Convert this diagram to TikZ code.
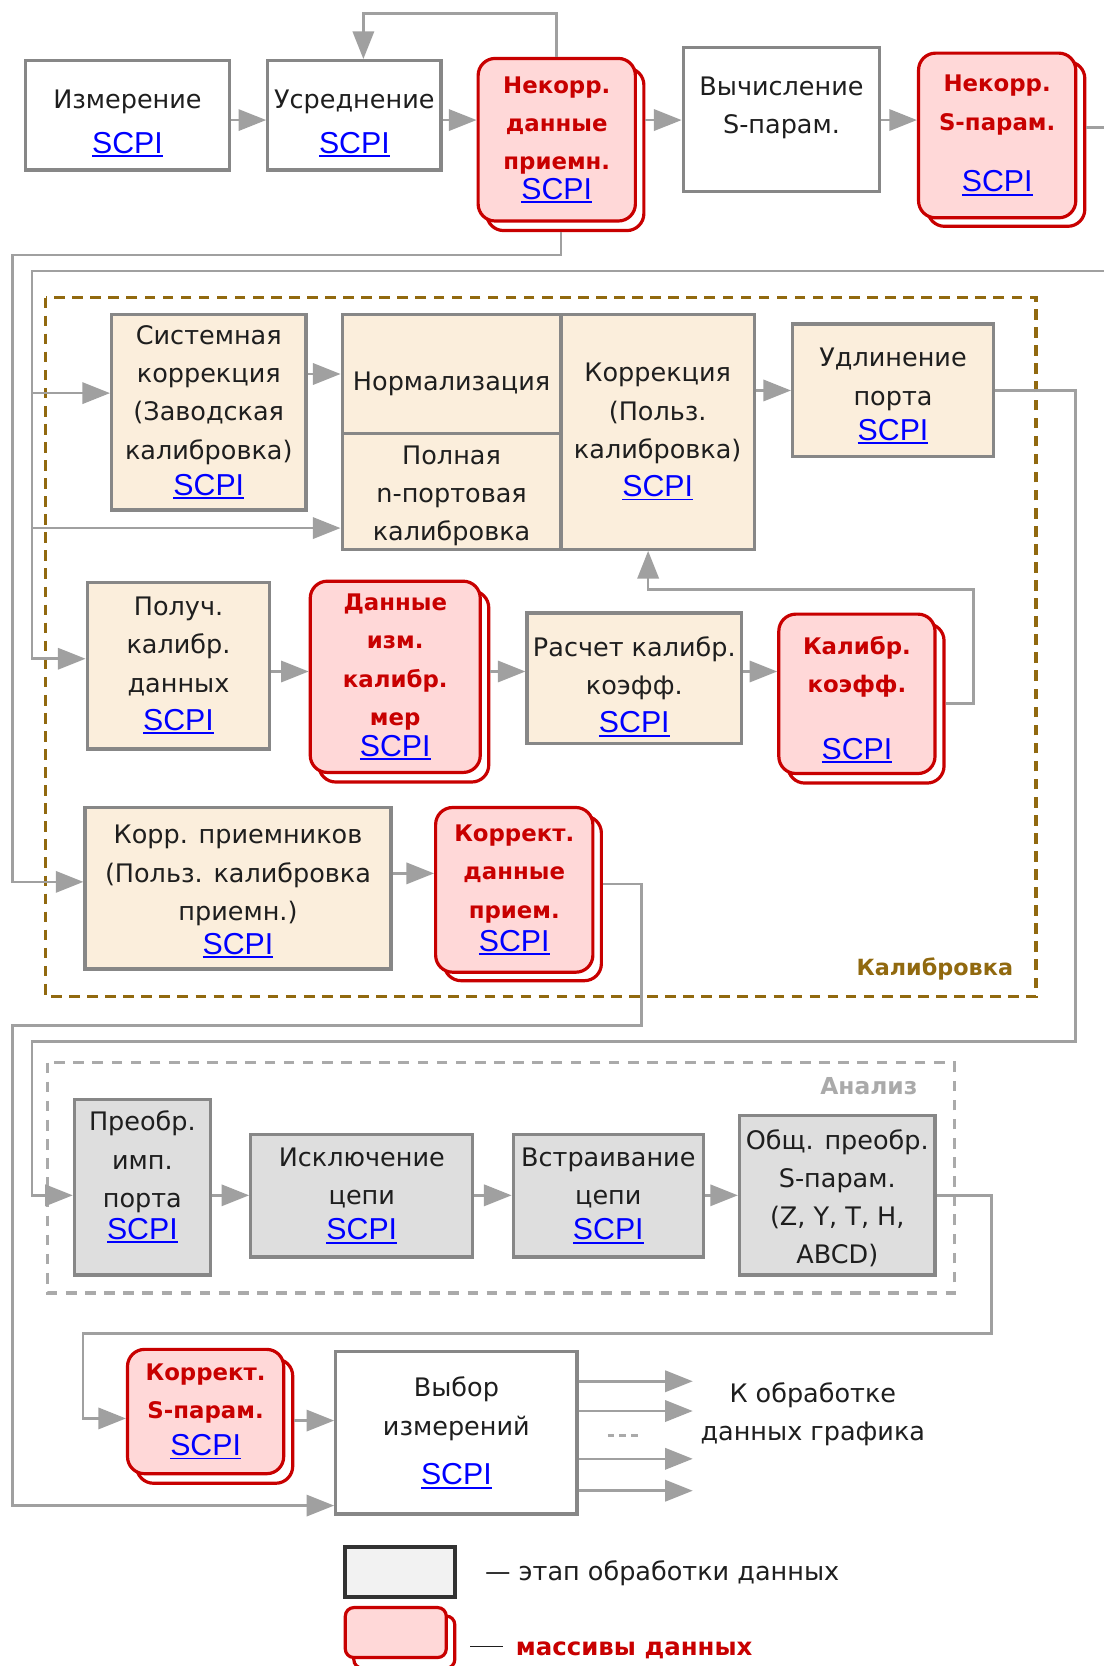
\documentclass[tikz,border=0pt]{standalone}
\usepackage{fontspec}
\setmainfont{DejaVu Sans}
\newfontfamily\scpifam{Liberation Sans}
\usetikzlibrary{arrows.meta}
\definecolor{boxgray}{RGB}{135,135,135}
\definecolor{linegray}{RGB}{160,160,160}
\definecolor{cream}{RGB}{251,238,220}
\definecolor{dpink}{RGB}{255,216,216}
\definecolor{dred}{RGB}{200,0,0}
\definecolor{lblue}{RGB}{0,0,255}
\definecolor{brownc}{RGB}{145,105,15}
\definecolor{angray}{RGB}{222,222,222}
\definecolor{dashgray}{RGB}{170,170,170}
\definecolor{textdark}{RGB}{30,30,30}
\definecolor{legdark}{RGB}{50,50,50}
\definecolor{leggray}{RGB}{242,242,242}
\newcommand\stfont{\fontsize{24}{36}\selectfont}
\newcommand\rdfont{\fontsize{21.5}{36}\selectfont\bfseries}
\newcommand\scpi{{\mdseries\color{lblue}\scpifam\fontsize{28.5}{30}\selectfont\setbox0\hbox{SCPI}\rlap{\rule[-3.5pt]{\wd0}{1.8pt}}\box0}}
\newcommand\dn[1]{\rule{0pt}{#1}}
\newcommand\upd[1]{\rule[-#1]{0pt}{0pt}}
\begin{document}
\begin{tikzpicture}[x=1pt,y=-1pt,
  stage/.style={draw=boxgray, line width=3pt, fill=white, align=center, inner sep=0pt, font=\stfont, text=textdark},
  calst/.style={stage, fill=cream},
  anst/.style={stage, fill=angray},
  databack/.style={draw=dred, line width=3pt, fill=white, rounded corners=16pt, inner sep=0pt},
  datafront/.style={databack, fill=dpink, align=center, font=\rdfont, text=dred},
  conn/.style={draw=linegray, line width=2.5pt, -{Triangle[length=26pt,width=20pt]}},
  plain/.style={font=\stfont, text=textdark, align=center}
  ]
\useasboundingbox (0,0) rectangle (1039,1568);
\clip (0,0) rectangle (1039,1568);
\fill[white] (0,0) rectangle (1039,1568);

% group frames
\draw[draw=brownc, line width=3pt, dash pattern=on 10pt off 7pt] (43,280) rectangle (975,938);
\draw[draw=dashgray, line width=3pt, dash pattern=on 10pt off 8pt] (45,1000) rectangle (898,1217);
\node[anchor=east, font=\fontsize{21}{21}\selectfont\bfseries, text=brownc] (callab) at (957,912) {Калибровка};
\node[anchor=east, font=\fontsize{22}{22}\selectfont\bfseries, text=dashgray] (anlab) at (867,1022) {Анализ};

% top row
\node[stage, minimum width=192pt, minimum height=103pt] (izm) at (120,108.5) {\dn{33pt}Измерение\\[6pt]\scpi};
\node[stage, minimum width=163pt, minimum height=103pt] (usr) at (333.5,108.5) {\dn{33pt}Усреднение\\[6pt]\scpi};
\node[databack, minimum width=148pt, minimum height=153pt] (nk1b) at (532,140.5) {};
\node[datafront, minimum width=148pt, minimum height=153pt] (nk1) at (524,131.5) {Некорр.\\данные\\приемн.\\[-8pt]\scpi};
\node[stage, minimum width=185pt, minimum height=135pt] (vych) at (735.5,112.5) {\dn{26pt}Вычисление\\S-парам.\\ \mbox{}};
\node[databack, minimum width=148pt, minimum height=155pt] (nk2b) at (947,135.5) {};
\node[datafront, minimum width=148pt, minimum height=155pt] (nk2) at (938.5,127.5) {Некорр.\\S-парам.\\[22pt]\scpi};

% calibration
\node[calst, minimum width=183pt, minimum height=184pt] (sys) at (196.5,388) {Системная\\коррекция\\(Заводская\\калибровка)\\[-2pt]\scpi};
\node[calst, minimum width=206pt, minimum height=112pt] (norm) at (425,352) {\dn{36pt}Нормализация};
\node[calst, minimum width=206pt, minimum height=109pt] (full) at (425,462.5) {\dn{26pt}Полная\\n-портовая\\калибровка};
\node[calst, minimum width=182pt, minimum height=221pt] (korrc) at (619,406.5) {Коррекция\\(Польз.\\калибровка)\\\scpi};
\node[calst, minimum width=189pt, minimum height=125pt] (udl) at (840.5,367.5) {\dn{28pt}Удлинение\\порта\\[-3pt]\scpi};

\node[calst, minimum width=172pt, minimum height=157pt] (pol) at (168,626.5) {Получ.\\калибр.\\данных\\\scpi};
\node[databack, minimum width=160pt, minimum height=180pt] (dimb) at (380,646) {};
\node[datafront, minimum width=160pt, minimum height=180pt] (dim) at (372,637) {Данные\\изм.\\калибр.\\мер\\[-7pt]\scpi};
\node[calst, minimum width=202pt, minimum height=123pt] (rasch) at (597,638.5) {\dn{34pt}Расчет калибр.\\коэфф.\\\scpi};
\node[databack, minimum width=147pt, minimum height=150pt] (kkb) at (815,662) {};
\node[datafront, minimum width=147pt, minimum height=150pt] (kk) at (806.5,653) {\dn{28pt}Калибр.\\коэфф.\\[27pt]\scpi};

\node[calst, minimum width=288pt, minimum height=152pt] (korrp) at (224,836) {\dn{24pt}Корр. приемников\\(Польз. калибровка\\приемн.)\\[-4pt]\scpi};
\node[databack, minimum width=148pt, minimum height=155pt] (kdpb) at (492,845.5) {};
\node[datafront, minimum width=148pt, minimum height=155pt] (kdp) at (484,837.5) {Коррект.\\данные\\прием.\\[-5pt]\scpi};

% analysis
\node[anst, minimum width=128pt, minimum height=165pt] (preobr) at (134,1117.5) {Преобр.\\имп.\\порта\\[-6pt]\scpi\upd{23pt}};
\node[anst, minimum width=209pt, minimum height=115pt] (iskl) at (340.5,1125.5) {Исключение\\цепи\\[-3pt]\scpi};
\node[anst, minimum width=179pt, minimum height=115pt] (vstr) at (572.5,1125.5) {Встраивание\\цепи\\[-3pt]\scpi};
\node[anst, minimum width=184pt, minimum height=150pt] (obsch) at (788,1125) {\dn{24pt}Общ. преобр.\\S-парам.\\(Z, Y, T, H,\\ABCD)};

% bottom
\node[databack, minimum width=147pt, minimum height=117pt] (ksb) at (202,1337.5) {};
\node[datafront, minimum width=147pt, minimum height=117pt] (ks) at (193.5,1328.5) {Коррект.\\S-парам.\\[-1pt]\scpi};
\node[stage, minimum width=227pt, minimum height=153pt] (vyb) at (429.5,1348.5) {Выбор\\измерений\\[11pt]\scpi};
\node[plain] (dest) at (765,1331) {К обработке\\данных графика};

% connectors: top row
\draw[conn] (izm.east |- 0,113) -- (usr.west |- 0,113);
\draw[conn] (usr.east |- 0,113) -- (nk1.west |- 0,113);
\draw[conn] (nk1b.east |- 0,113) -- (vych.west |- 0,113);
\draw[conn] (vych.east |- 0,113) -- (nk2.west |- 0,113);
\draw[conn] (nk1.north) -- (nk1.north |- 0,13) -| ([xshift=8.5pt]usr.north);

% long feedback lines
\draw[conn] (nk2b.east |- 0,120) -- (1060,120) |- (30,255) -- (30,620) -- (pol.west |- 0,620);
\draw[conn] (30,370) -- (sys.west |- 0,370);
\draw[conn] (30,497) -- (full.west |- 0,497);
\draw[conn] ([xshift=-4pt]nk1b.south) |- (12,240) -- (12,830) -- (korrp.west |- 0,830);
\draw[conn] (kdpb.east |- 0,832) -- (604,832) |- (12,965) -- (12,1417) -- (vyb.west |- 0,1417);
\draw[conn] (udl.east) -- (1012,367.5) |- (30,980) -- (30,1125) -- (preobr.west |- 0,1125);
\draw[conn] (obsch.east |- 0,1125) -- (933,1125) |- (78,1255) -- (78,1335) -- (ks.west |- 0,1335);

% calibration arrows
\draw[conn] (sys.east |- norm.west) -- (norm.west);
\draw[conn] (korrc.east |- udl.west) -- (udl.west);
\draw[conn] (pol.east |- 0,632) -- (dim.west |- 0,632);
\draw[conn] (dimb.east |- 0,632) -- (rasch.west |- 0,632);
\draw[conn] (rasch.east |- 0,632) -- (kk.west |- 0,632);
\draw[conn] (kkb.east |- 0,662) -- (916,662) |- (610,555) -- ([xshift=-9pt]korrc.south);
\draw[conn] (korrp.east |- 0,822) -- (kdp.west |- 0,822);

% analysis arrows
\draw[conn] (preobr.east |- 0,1125) -- (iskl.west |- 0,1125);
\draw[conn] (iskl.east |- 0,1125) -- (vstr.west |- 0,1125);
\draw[conn] (vstr.east |- 0,1125) -- (obsch.west |- 0,1125);

% bottom arrows
\draw[conn] (ksb.east |- 0,1337) -- (vyb.west |- 0,1337);
\coordinate (o1) at (652,1300);
\coordinate (o2) at (652,1328);
\coordinate (o3) at (652,1373);
\coordinate (o4) at (652,1403);
\foreach \c in {o1,o2,o3,o4} \draw[conn] (vyb.east |- \c) -- (\c);
\draw[draw=dashgray, line width=2.2pt, dash pattern=on 6pt off 5pt] (572,1351) -- (603,1351);

% legend
\node[draw=legdark, line width=3.5pt, fill=leggray, minimum width=103pt, minimum height=47pt, inner sep=0pt] (leg1) at (376.5,1479.5) {};
\node[anchor=west, plain] (leg1t) at (453,1481) {— этап обработки данных};
\node[databack, rounded corners=8pt, minimum width=95pt, minimum height=49pt] (leg2b) at (380.5,1545.5) {};
\node[databack, rounded corners=8pt, fill=dpink, minimum width=95pt, minimum height=47pt] (leg2) at (372.5,1536.5) {};
\node[anchor=west, font=\stfont] (leg2t) at (439,1553) {\textcolor{textdark}{\rule[7.5pt]{31pt}{1.6pt}}\hspace{12pt}\textcolor{dred}{\bfseries\fontsize{23}{36}\selectfont массивы данных}};
\end{tikzpicture}
\end{document}
